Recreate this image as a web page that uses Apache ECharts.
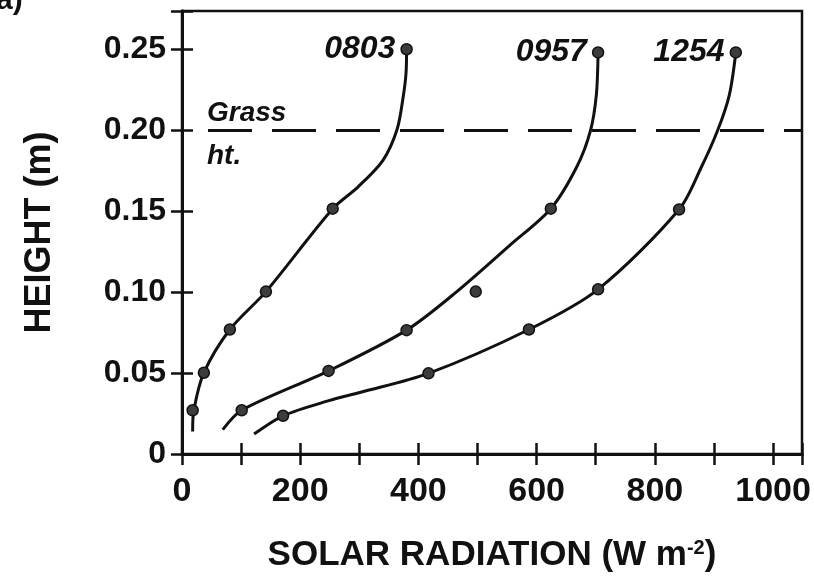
<!DOCTYPE html>
<html>
<head>
<meta charset="utf-8">
<script src="https://cdn.jsdelivr.net/npm/echarts@6/dist/echarts.min.js"></script>
<style>
html,body{margin:0;padding:0;background:#fff;}
#chart{width:814px;height:578px;}
</style>
</head>
<body>
<div id="chart"></div>
<script>
// ---- data (solar radiation W m-2, height m) ----
const seriesNames = ['0803', '0957', '1254'];

// measured points
const points0803 = [[18, 0.027], [37, 0.0502], [81, 0.0769], [142, 0.1003], [255, 0.1515], [380, 0.25]];
const points0957 = [[101, 0.027], [248, 0.0513], [380, 0.0765], [497, 0.1003], [624, 0.1515], [704, 0.248]];
const points1254 = [[171, 0.0236], [417, 0.0498], [587, 0.0769], [704, 0.1017], [841, 0.151], [937, 0.248]];

// fitted curves
const curve0803 = [[18, 0.0139], [20, 0.027], [37, 0.0502], [81, 0.0769], [142, 0.1003], [255, 0.1515], [298, 0.165], [340, 0.1814], [364, 0.2006], [374, 0.2200], [379, 0.2350], [380, 0.25]];
const curve0957 = [[69, 0.015], [101, 0.027], [248, 0.0513], [380, 0.0765], [465, 0.1003], [555, 0.129], [624, 0.1515], [668, 0.1774], [691, 0.1996], [701, 0.2217], [704, 0.248]];
const curve1254 = [[122, 0.0123], [171, 0.0236], [250, 0.0331], [301, 0.038], [417, 0.0498], [587, 0.0769], [704, 0.1017], [841, 0.151], [879, 0.1774], [906, 0.1996], [926, 0.2217], [937, 0.248]];

const grassHeight = 0.2;
const grassLineStartX = 44;

const xTickLabelValues = [0, 200, 400, 600, 800, 1000];
const yTickValues = [0, 0.05, 0.10, 0.15, 0.20, 0.25];
const yTickLabels = ['0', '0.05', '0.10', '0.15', '0.20', '0.25'];

const xMax = 1049;
const yMax = 0.2736;

// ---- chart ----
const INK = '#111';
const chart = echarts.init(document.getElementById('chart'), null, {renderer: 'canvas'});
const curves = [curve0803, curve0957, curve1254];
const pts = [points0803, points0957, points1254];

const series = [];
seriesNames.forEach((name, i) => {
  const line = {
    name: name, type: 'line', data: curves[i], showSymbol: false,
    smooth: 0.3,
    lineStyle: {color: INK, width: 3}, z: 3, silent: true
  };
  if (i === 0) {
    line.markLine = {
      symbol: 'none', silent: true, animation: false,
      lineStyle: {type: [44, 20], width: 3, color: INK},
      label: {show: false},
      data: [[{coord: [grassLineStartX, grassHeight]}, {coord: [xMax, grassHeight]}]]
    };
  }
  series.push(line);
  series.push({
    name: name, type: 'scatter', symbol: 'circle', symbolSize: 11, z: 4,
    itemStyle: {color: '#3c3c3c', borderColor: INK, borderWidth: 1.5, opacity: 1},
    data: pts[i].map((p, k) => k === pts[i].length - 1 ? {
      value: p,
      label: {show: true, position: 'left', distance: 5, formatter: name,
        fontFamily: 'Liberation Sans, Arial, sans-serif', fontStyle: 'italic', fontWeight: 'bold',
        fontSize: 32, color: INK}
    } : p)
  });
});

const font = 'Liberation Sans, Arial, sans-serif';
const option = {
  animation: false,
  backgroundColor: '#fff',
  grid: {left: 182, right: 12, top: 11, bottom: 115, show: true, borderColor: INK, borderWidth: 2.5, containLabel: false},
  xAxis: [{
    type: 'value', min: 0, max: xMax, interval: 100,
    name: 'SOLAR RADIATION (W m{sup|-2})', nameLocation: 'middle', nameGap: 84,
    nameTextStyle: {fontFamily: font, fontWeight: 'bold', fontSize: 35, color: INK,
      rich: {sup: {fontFamily: font, fontWeight: 'bold', fontSize: 20, color: INK, verticalAlign: 'top', padding: [0, 0, 14, 0]}}},
    axisLine: {show: true, lineStyle: {color: INK, width: 3}},
    axisTick: {show: true, inside: true, length: 11, lineStyle: {color: INK, width: 2.5}},
    axisLabel: {customValues: xTickLabelValues, formatter: v => String(v), fontFamily: font, fontWeight: 'bold', fontSize: 34, color: INK, margin: 21},
    splitLine: {show: false}
  }, {
    type: 'value', position: 'top', min: 0, max: xMax, interval: 100,
    axisLine: {show: true, lineStyle: {color: INK, width: 3}},
    axisTick: {show: true, inside: true, length: 11, lineStyle: {color: INK, width: 2.5}},
    axisLabel: {show: false}, splitLine: {show: false}
  }],
  yAxis: [{
    type: 'value', min: 0, max: yMax, interval: 0.05,
    name: 'HEIGHT (m)', nameLocation: 'middle', nameGap: 124, nameRotate: 90,
    nameTextStyle: {fontFamily: font, fontWeight: 'bold', fontSize: 36, color: INK},
    axisLine: {show: true, lineStyle: {color: INK, width: 3}},
    axisTick: {show: true, inside: true, length: 11, lineStyle: {color: INK, width: 2.5}},
    axisLabel: {customValues: yTickValues, fontFamily: font, fontWeight: 'bold', fontSize: 32, color: INK, margin: 16,
      verticalAlignMinLabel: 'middle',
      formatter: v => { const k = yTickValues.findIndex(t => Math.abs(t - v) < 1e-6); return k >= 0 ? yTickLabels[k] : ''; }},
    splitLine: {show: false}
  }, {
    type: 'value', position: 'right', min: 0, max: yMax, interval: 0.05,
    axisLine: {show: true, lineStyle: {color: INK, width: 3}},
    axisTick: {show: true, inside: true, length: 11, lineStyle: {color: INK, width: 2.5}},
    axisLabel: {show: false}, splitLine: {show: false}
  }],
  graphic: [
    {type: 'text', left: 207, top: 99, style: {text: 'Grass', fontFamily: font, fontStyle: 'italic', fontWeight: 'bold', fontSize: 28, fill: INK}},
    {type: 'text', left: 207, top: 142, style: {text: 'ht.', fontFamily: font, fontStyle: 'italic', fontWeight: 'bold', fontSize: 28, fill: INK}},
    {type: 'text', left: -4, top: -14, style: {text: 'a)', fontFamily: font, fontWeight: 'bold', fontSize: 30, fill: INK}}
  ],
  series: series
};
chart.setOption(option);
</script>
</body>
</html>
